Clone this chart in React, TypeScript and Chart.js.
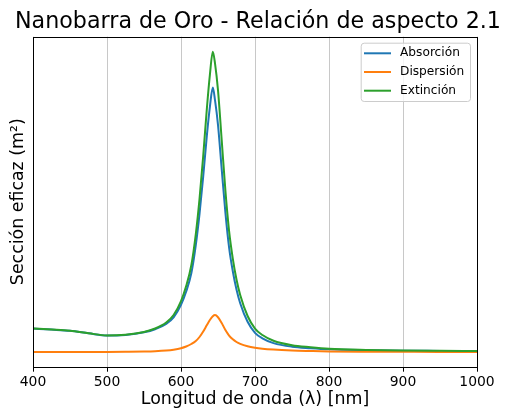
import React, { useEffect, useRef } from 'react';
import { Chart, registerables } from 'chart.js';

Chart.register(...registerables);

// Wavelength (nm)
const wavelength = [400, 425, 450, 475, 500, 525, 550, 565, 580, 590, 600, 607, 614, 620, 625, 630, 635, 639, 643, 646, 650, 655, 660, 665, 670, 675, 680, 690, 700, 710, 725, 750, 775, 800, 850, 900, 950, 1000];
// Cross sections (arbitrary units)
const absorption = [23.4, 22.4, 21.2, 18.7, 16.4, 17.1, 19.7, 22.8, 28.1, 34.7, 47.2, 60.5, 79.0, 107.0, 138.0, 175.5, 217.0, 245.0, 264.5, 251.6, 227.2, 183.0, 139.5, 104.5, 80.8, 62.5, 48.8, 30.2, 19.2, 13.7, 8.9, 5.3, 3.8, 2.7, 1.8, 1.3, 1.1, 0.9];
const scattering = [0.1, 0.1, 0.1, 0.1, 0.1, 0.2, 0.4, 0.7, 1.4, 2.3, 3.8, 5.5, 8.0, 11.0, 15.0, 20.5, 27.0, 32.0, 35.8, 36.9, 34.8, 29.0, 22.0, 16.5, 12.7, 10.0, 8.2, 5.8, 4.3, 3.3, 2.4, 1.5, 1.0, 0.6, 0.3, 0.2, 0.1, 0.1];
const extinction = [23.5, 22.5, 21.3, 18.8, 16.5, 17.3, 20.1, 23.5, 29.5, 37.0, 51.0, 66.0, 87.0, 118.0, 153.0, 196.0, 244.0, 277.0, 300.3, 288.5, 262.0, 212.0, 161.5, 121.0, 93.5, 72.5, 57.0, 36.0, 23.5, 17.0, 11.3, 6.8, 4.8, 3.3, 2.1, 1.5, 1.2, 1.0];

const xTicks = [400, 500, 600, 700, 800, 900, 1000];
const seriesLabels = ['Absorción', 'Dispersión', 'Extinción'];
const seriesColors = ['#1f77b4', '#ff7f0e', '#2ca02c'];

const titleText = 'Nanobarra de Oro - Relación de aspecto 2.1';
const xTitle = 'Longitud de onda (λ) [nm]';
const yTitle = 'Sección eficaz (m²)';

const FONT = "'DejaVu Sans', sans-serif";

const framePlugin = {
  id: 'frame',
  afterDraw(chart: any) {
    const { ctx, chartArea } = chart;
    const { left, top, right, bottom } = chartArea;
    ctx.save();
    ctx.strokeStyle = '#000';
    ctx.lineWidth = 1;
    ctx.strokeRect(Math.round(left) + 0.5, Math.round(top) + 0.5, Math.round(right - left), Math.round(bottom - top));

    // title, centred over the axes
    ctx.fillStyle = '#000';
    ctx.font = `22.2px ${FONT}`;
    ctx.textAlign = 'center';
    ctx.textBaseline = 'alphabetic';
    ctx.fillText(titleText, (left + right) / 2 + 3, top - 9.2);
    ctx.restore();

    // legend (upper right, inside axes)
    const boxW = 109.3;
    const boxH = 58.3;
    const bx = right - 7 - boxW;
    const by = top + 6;
    ctx.save();
    ctx.beginPath();
    (ctx as any).roundRect(bx + 0.5, by + 0.5, boxW, boxH, 3);
    ctx.fillStyle = 'rgba(255,255,255,0.8)';
    ctx.fill();
    ctx.strokeStyle = '#cccccc';
    ctx.lineWidth = 1;
    ctx.stroke();
    ctx.font = `12.2px ${FONT}`;
    ctx.textBaseline = 'middle';
    ctx.textAlign = 'left';
    chart.data.datasets.forEach((ds: any, i: number) => {
      const y = by + 10.6 + i * 18.7;
      ctx.beginPath();
      ctx.strokeStyle = ds.borderColor;
      ctx.lineWidth = 2;
      ctx.moveTo(bx + 3.3, y);
      ctx.lineTo(bx + 30.3, y);
      ctx.stroke();
      ctx.fillStyle = '#000';
      ctx.fillText(ds.label, bx + 39.3, y);
    });
    ctx.restore();
  },
};

export default function App() {
  const ref = useRef<HTMLCanvasElement>(null);
  useEffect(() => {
    const canvas = ref.current!;
    const mk = (vals: number[]) => wavelength.map((x, i) => ({ x, y: vals[i] }));
    const series = [absorption, scattering, extinction];
    const chart = new Chart(canvas, {
      type: 'line',
      data: {
        datasets: series.map((vals, i) => ({
          label: seriesLabels[i],
          data: mk(vals),
          borderColor: seriesColors[i],
          backgroundColor: seriesColors[i],
          borderWidth: 2,
          pointRadius: 0,
          fill: false,
          cubicInterpolationMode: 'monotone' as const,
          order: 2 - i,
        })),
      },
      options: {
        responsive: false,
        animation: false,
        devicePixelRatio: 1,
        layout: { padding: { left: 0, right: 28, top: 36.7, bottom: 0 } },
        plugins: {
          legend: { display: false },
          tooltip: { enabled: false },
          title: { display: false },
        },
        scales: {
          x: {
            type: 'linear',
            min: 400,
            max: 1000,
            afterFit: (s: any) => { s.height = 46.3; },
            afterBuildTicks: (s: any) => { s.ticks = xTicks.map((v) => ({ value: v })); },
            ticks: {
              color: '#000',
              font: { family: FONT, size: 13.9 },
              padding: 2,
              maxRotation: 0,
              autoSkip: false,
              callback: (v: any) => String(v),
            },
            grid: {
              display: true,
              color: '#c8c8c8',
              lineWidth: 1,
              tickColor: '#000',
              tickLength: 5,
              tickWidth: 1,
            },
            border: { display: false },
            title: {
              display: true,
              text: xTitle,
              color: '#000',
              font: { family: FONT, size: 17.4, lineHeight: 1.2 },
              padding: { top: 0, bottom: 3.2 },
            },
          },
          y: {
            type: 'linear',
            min: -14.7,
            max: 315.4,
            afterFit: (s: any) => { s.width = 33; },
            ticks: { display: false },
            grid: { display: false },
            border: { display: false },
            title: {
              display: true,
              text: yTitle,
              color: '#000',
              font: { family: FONT, size: 17.4, lineHeight: 1.2 },
              padding: { top: 7.9, bottom: 0 },
            },
          },
        },
      },
      plugins: [framePlugin],
    });
    return () => chart.destroy();
  }, []);

  return (
    <div style={{ position: 'absolute', left: 0, top: 0, width: 505, height: 413 }}>
      <canvas ref={ref} width={505} height={413} style={{ display: 'block' }} />
    </div>
  );
}
